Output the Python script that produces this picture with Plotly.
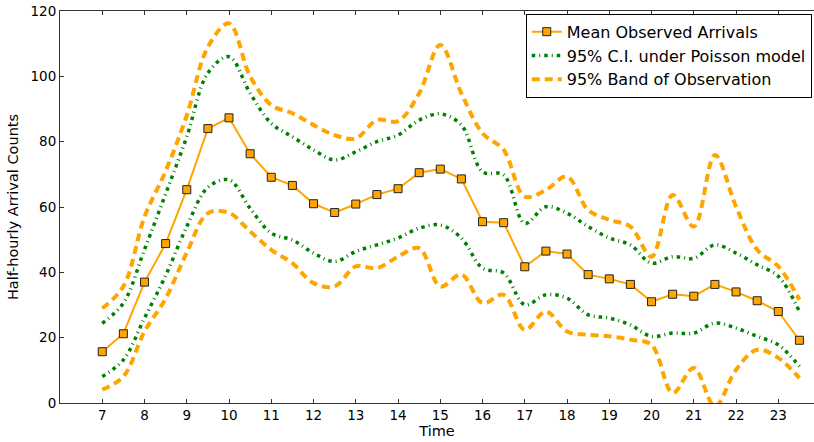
import plotly.graph_objects as go

time = [7.0, 7.5, 8.0, 8.5, 9.0, 9.5, 10.0, 10.5, 11.0, 11.5, 12.0, 12.5, 13.0,
        13.5, 14.0, 14.5, 15.0, 15.5, 16.0, 16.5, 17.0, 17.5, 18.0, 18.5, 19.0,
        19.5, 20.0, 20.5, 21.0, 21.5, 22.0, 22.5, 23.0, 23.5]

mean_obs = [15.7, 21.2, 37.0, 48.8, 65.3, 84.0, 87.3, 76.3, 69.1, 66.6, 61.0, 58.3, 60.9,
            63.8, 65.6, 70.5, 71.6, 68.6, 55.5, 55.2, 41.7, 46.5, 45.6, 39.3, 38.0,
            36.3, 31.0, 33.3, 32.7, 36.3, 34.0, 31.3, 28.0, 19.2]

ci_upper = [24.4, 30.6, 47.0, 64.0, 81.5, 101.0, 106.0, 94.8, 85.6, 81.5, 77.5, 74.4, 76.9,
            80.0, 82.0, 86.6, 88.5, 85.1, 70.8, 69.8, 55.0, 60.1, 58.1, 54.0, 50.5,
            48.4, 42.8, 44.8, 44.3, 48.4, 45.9, 42.3, 38.8, 28.0]

ci_lower = [8.1, 13.2, 26.0, 39.0, 54.0, 66.0, 68.3, 59.6, 52.0, 49.9, 45.9, 43.3, 46.4,
            48.4, 50.5, 53.5, 54.5, 50.5, 41.3, 39.8, 30.1, 33.1, 32.1, 27.0, 26.0,
            23.9, 20.4, 21.4, 21.4, 24.5, 22.9, 20.4, 17.8, 11.2]

band_upper = [29.0, 35.7, 57.0, 71.0, 88.0, 109.0, 116.2, 100.0, 91.2, 88.7, 85.1, 82.0, 81.0,
              86.6, 86.3, 94.8, 109.6, 94.8, 82.6, 77.5, 63.2, 65.2, 69.3, 59.1, 56.1,
              54.0, 44.8, 63.7, 54.0, 75.9, 60.1, 46.9, 41.8, 31.6]

band_lower = [4.1, 8.1, 21.9, 32.0, 46.0, 58.1, 58.2, 52.5, 46.9, 42.8, 36.7, 35.7, 41.8,
              41.3, 44.8, 47.4, 35.7, 39.3, 30.6, 33.1, 22.4, 28.0, 21.9, 20.9, 20.4,
              19.4, 17.8, 3.1, 10.7, -1.0, 10.2, 16.3, 13.8, 7.6]

x_ticks = list(range(7, 24))
y_ticks = [0, 20, 40, 60, 80, 100, 120]

ORANGE = "#FFA500"
GREEN = "#008000"
FONT = "DejaVu Sans"
CI_DASH = "3.5px,4px,1px,4px"

fig = go.Figure()

fig.add_trace(go.Scatter(
    x=time, y=mean_obs, mode="lines+markers", name="Mean Observed Arrivals",
    line=dict(color=ORANGE, width=2),
    marker=dict(symbol="square", size=8, color=ORANGE, line=dict(color="#222222", width=1)),
))

fig.add_trace(go.Scatter(
    x=time, y=ci_upper, mode="lines", name="95% C.I. under Poisson model",
    line=dict(color=GREEN, width=3.5, dash=CI_DASH, shape="spline", smoothing=1.0),
    legendgroup="ci",
))
fig.add_trace(go.Scatter(
    x=time, y=ci_lower, mode="lines", name="95% C.I. under Poisson model",
    line=dict(color=GREEN, width=3.5, dash=CI_DASH, shape="spline", smoothing=1.0),
    legendgroup="ci", showlegend=False,
))
fig.add_trace(go.Scatter(
    x=time, y=band_upper, mode="lines", name="95% Band of Observation",
    line=dict(color=ORANGE, width=4, dash="8px,5px", shape="spline", smoothing=1.0),
    legendgroup="band",
))
fig.add_trace(go.Scatter(
    x=time, y=band_lower, mode="lines", name="95% Band of Observation",
    line=dict(color=ORANGE, width=4, dash="8px,5px", shape="spline", smoothing=1.0),
    legendgroup="band", showlegend=False,
))

fig.update_layout(
    width=814, height=442,
    margin=dict(l=60, r=0, t=11, b=39),
    paper_bgcolor="white", plot_bgcolor="white",
    font=dict(family=FONT, size=13, color="black"),
    showlegend=True,
    legend=dict(
        x=0.997, y=0.993, xanchor="right", yanchor="top",
        bgcolor="white", bordercolor="black", borderwidth=1,
        font=dict(family=FONT, size=16, color="black"),
        tracegroupgap=0, itemwidth=30,
    ),
    xaxis=dict(
        range=[6.0, 23.845], tickmode="array", tickvals=x_ticks,
        ticktext=[str(t) for t in x_ticks],
        ticks="inside", ticklen=4, tickcolor="#333333",
        tickfont=dict(family=FONT, size=13.5),
        showline=True, linecolor="#333333", linewidth=1, mirror="ticks",
        showgrid=False, zeroline=False,
        title=dict(text="Time", font=dict(family=FONT, size=14.5), standoff=3),
    ),
    yaxis=dict(
        range=[0, 120], tickmode="array", tickvals=y_ticks,
        ticks="inside", ticklen=4, tickcolor="#333333",
        tickfont=dict(family=FONT, size=13.5),
        showline=True, linecolor="#333333", linewidth=1, mirror=False,
        showgrid=False, zeroline=False,
        title=dict(text="Half-hourly Arrival Counts", font=dict(family=FONT, size=14.5), standoff=8),
    ),
)

fig.write_html("out.html")
